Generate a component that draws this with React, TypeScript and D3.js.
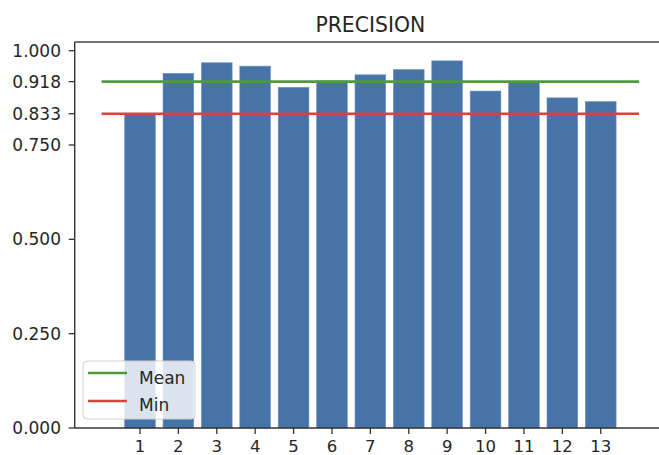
import React from "react";
import * as d3 from "d3";

const categories: number[] = [1, 2, 3, 4, 5, 6, 7, 8, 9, 10, 11, 12, 13];
const precision: number[] = [0.833, 0.94, 0.968, 0.959, 0.903, 0.92, 0.936, 0.95, 0.973, 0.893, 0.915, 0.875, 0.865];
const yTicks: number[] = [0, 0.25, 0.5, 0.75, 0.833, 0.918, 1.0];
const meanValue = 0.918;
const minValue = 0.833;
const legendLabels: string[] = ["Mean", "Min"];

const W = 659;
const H = 455;
const FONT = "DejaVu Sans, sans-serif";
const TEXT = "#262626";

export default function App() {
  const left = 74.7;
  const right = 666;
  const top = 42;
  const bottom = 428;

  const x = d3.scaleLinear().domain([-0.7, 14.7]).range([left, right]);
  const y = d3.scaleLinear().domain([0, 1.023]).range([bottom, top]);
  const barW = x(0.8) - x(0);

  const legendColors = ["#4f9a3f", "#d8433a"];

  return (
    <svg
      width={W}
      height={H}
      style={{ position: "absolute", left: 0, top: 0, background: "#fff" }}
      fontFamily={FONT}
    >
      <rect x={0} y={0} width={W} height={H} fill="#fff" />
      {/* bars */}
      {categories.map((c, i) => (
        <rect
          key={c}
          x={x(c) - barW / 2}
          y={y(precision[i])}
          width={barW}
          height={y(0) - y(precision[i])}
          fill="#4674a9"
          stroke="#6f93bd"
          strokeWidth={0.6}
        />
      ))}
      {/* mean & min lines */}
      <line x1={x(0)} x2={x(14)} y1={y(meanValue)} y2={y(meanValue)} stroke={legendColors[0]} strokeWidth={2.6} />
      <line x1={x(0)} x2={x(14)} y1={y(minValue)} y2={y(minValue)} stroke={legendColors[1]} strokeWidth={2.6} />
      {/* spines */}
      <line x1={left} x2={left} y1={top} y2={bottom} stroke="#333" strokeWidth={1.4} />
      <line x1={left} x2={W} y1={bottom} y2={bottom} stroke="#333" strokeWidth={1.4} />
      <line x1={left} x2={W} y1={top} y2={top} stroke="#444" strokeWidth={1.6} />
      {/* y ticks */}
      {yTicks.map((t) => (
        <g key={t}>
          <line x1={left - 6} x2={left} y1={y(t)} y2={y(t)} stroke="#333" strokeWidth={1.3} />
          <text x={61} y={y(t)} dy="0.36em" textAnchor="end" fontSize={17} fill={TEXT}>
            {t.toFixed(3)}
          </text>
        </g>
      ))}
      {/* x ticks */}
      {categories.map((c) => (
        <g key={c}>
          <line x1={x(c)} x2={x(c)} y1={bottom} y2={bottom + 6} stroke="#333" strokeWidth={1.3} />
          <text x={x(c)} y={452} textAnchor="middle" fontSize={16.5} fill={TEXT}>
            {String(c)}
          </text>
        </g>
      ))}
      {/* title */}
      <text x={(left + right) / 2} y={32} textAnchor="middle" fontSize={20.4} fill={TEXT}>
        PRECISION
      </text>
      {/* legend */}
      <rect x={83} y={361} width={112} height={58} rx={4} fill="#fff" fillOpacity={0.8} stroke="#d0d0d0" strokeWidth={1} />
      {legendLabels.map((l, i) => (
        <g key={l}>
          <line x1={88} x2={127} y1={373 + i * 28} y2={373 + i * 28} stroke={legendColors[i]} strokeWidth={2.6} />
          <text x={139} y={384 + i * 27} fontSize={17} fill={TEXT}>
            {l}
          </text>
        </g>
      ))}
    </svg>
  );
}
